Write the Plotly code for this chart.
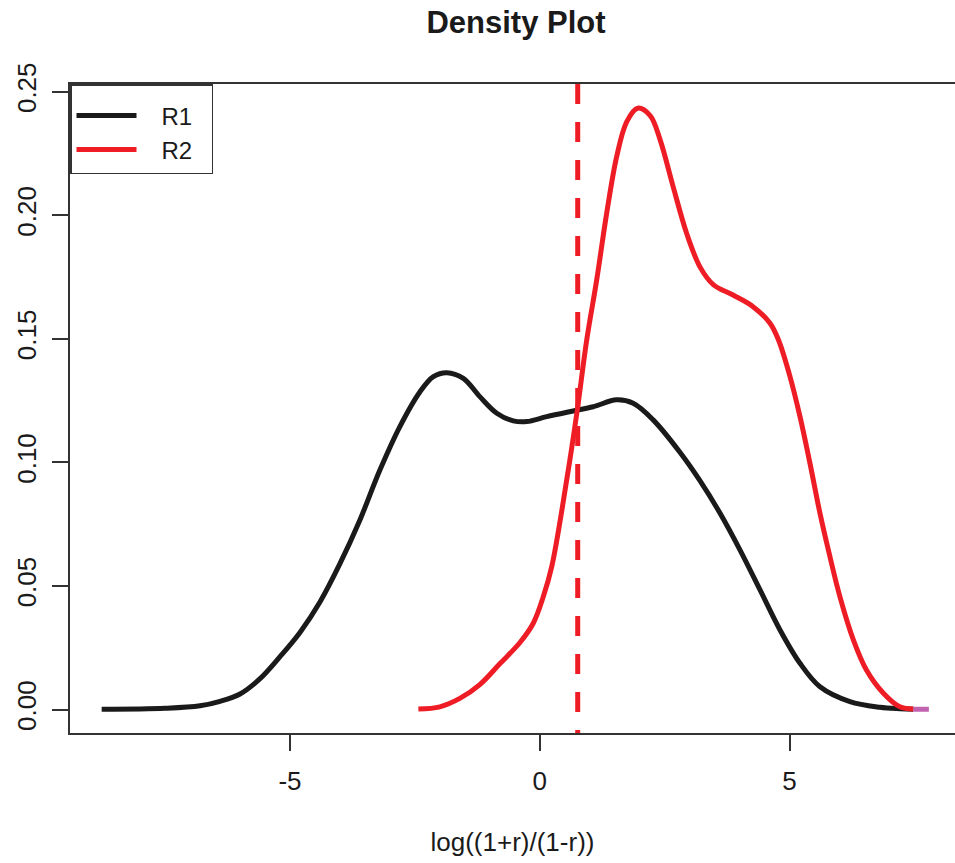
import plotly.graph_objects as go

# ---- data ----
r1_x = [-8.77, -7.5, -6.8, -6.4, -6.0, -5.6, -5.2, -4.8, -4.4, -4.0, -3.6, -3.2, -2.8, -2.4,
        -2.13, -1.86, -1.53, -1.2, -0.86, -0.53, -0.26, 0.14, 0.67, 1.07, 1.54, 1.87, 2.27,
        2.81, 3.21, 3.61, 4.01, 4.41, 4.81, 5.21, 5.61, 6.21, 6.81, 7.21, 7.48]
r1_y = [0.0001, 0.0005, 0.0015, 0.0033, 0.0063, 0.0125, 0.0214, 0.0312, 0.0435, 0.059, 0.0767,
        0.0969, 0.1145, 0.1285, 0.1347, 0.1363, 0.134, 0.1266, 0.1199, 0.1168, 0.1165, 0.1185,
        0.1208, 0.1225, 0.1253, 0.1239, 0.1172, 0.1040, 0.0925, 0.0794, 0.0645, 0.0484, 0.0322,
        0.0187, 0.0092, 0.0032, 0.0009, 0.0003, 0.0001]

r2_x = [-2.43, -2.0, -1.6, -1.2, -0.8, -0.4, -0.13, 0.07, 0.24, 0.54, 0.75, 0.94, 1.14, 1.34,
        1.54, 1.74, 1.96, 2.21, 2.41, 2.67, 2.94, 3.21, 3.48, 3.87, 4.27, 4.61, 4.78, 5.01,
        5.21, 5.41, 5.61, 5.81, 6.01, 6.28, 6.54, 6.88, 7.21, 7.48]
r2_y = [0.0002, 0.0011, 0.0045, 0.0101, 0.0185, 0.027, 0.0349, 0.0456, 0.0578, 0.0929, 0.121,
        0.1495, 0.1738, 0.2008, 0.2237, 0.2378, 0.2433, 0.2403, 0.2305, 0.2116, 0.1927, 0.179,
        0.1718, 0.1677, 0.1630, 0.1563, 0.1495, 0.1347, 0.1185, 0.0996, 0.0794, 0.0618, 0.0456,
        0.0281, 0.016, 0.0066, 0.0011, 0.0002]

tail_x = [7.48, 7.79]
tail_y = [0.0001, 0.0001]

vline_x = 0.76

series_names = ["R1", "R2"]

x_ticks = [-5, 0, 5]
y_ticks = [0.00, 0.05, 0.10, 0.15, 0.20, 0.25]

x_range = [-9.404, 8.313]
y_range = [-0.0095, 0.2531]

FONT = "Liberation Sans, Arial, Helvetica, sans-serif"
BLACK = "#1a1a1a"
RED = "#ee1c25"
AXIS = "#333333"
LW = 5
PAD_L = "&nbsp;" * 3
PAD_R = "&nbsp;" * 2

fig = go.Figure()
fig.add_trace(go.Scatter(x=r1_x, y=r1_y, mode="lines", name=PAD_L + series_names[0] + PAD_R,
                         line=dict(color=BLACK, width=LW, shape="spline", smoothing=1.0)))
fig.add_trace(go.Scatter(x=r2_x, y=r2_y, mode="lines", name=PAD_L + series_names[1] + PAD_R,
                         line=dict(color=RED, width=LW, shape="spline", smoothing=1.0)))
fig.add_trace(go.Scatter(x=tail_x, y=tail_y, mode="lines", showlegend=False,
                         line=dict(color="#c162b0", width=LW)))
fig.add_trace(go.Scatter(x=[vline_x, vline_x], y=[y_range[1], y_range[0]], mode="lines",
                         showlegend=False,
                         line=dict(color=RED, width=LW, dash="20px,18px")))

fig.update_layout(
    width=955, height=863,
    margin=dict(l=70, r=0, t=84, b=130),
    paper_bgcolor="white", plot_bgcolor="white",
    font=dict(family=FONT, size=26, color="#1a1a1a"),
    title=dict(text="<b>Density Plot</b>", x=516 / 955, xref="container", xanchor="center",
               y=1 - 22 / 863, yref="container", yanchor="middle",
               font=dict(size=31, family=FONT, color="#1a1a1a")),
    showlegend=True,
    legend=dict(x=0, y=1, xanchor="left", yanchor="top", xref="paper", yref="paper",
                bgcolor="white", bordercolor=AXIS, borderwidth=1.5,
                itemwidth=60,
                title=dict(text="&nbsp;", font=dict(size=6)),
                font=dict(size=24, family=FONT)),
    xaxis=dict(range=x_range, tickvals=x_ticks, ticktext=[str(v) for v in x_ticks],
               showgrid=False, zeroline=False, showline=True, linecolor=AXIS, linewidth=1.5,
               mirror=True, ticks="outside", ticklen=16, tickwidth=1.5, tickcolor=AXIS,
               ticklabelstandoff=8,
               title=dict(text="log((1+r)/(1-r))", standoff=38, font=dict(size=26))),
    yaxis=dict(range=y_range, tickvals=y_ticks, ticktext=["%.2f" % v for v in y_ticks],
               showgrid=False, zeroline=False, showline=True, linecolor=AXIS, linewidth=1.5,
               mirror=False, ticks="outside", ticklen=16, tickwidth=1.5, tickcolor=AXIS,
               tickangle=-90, ticklabelstandoff=6),
)

fig.write_html("out.html")
